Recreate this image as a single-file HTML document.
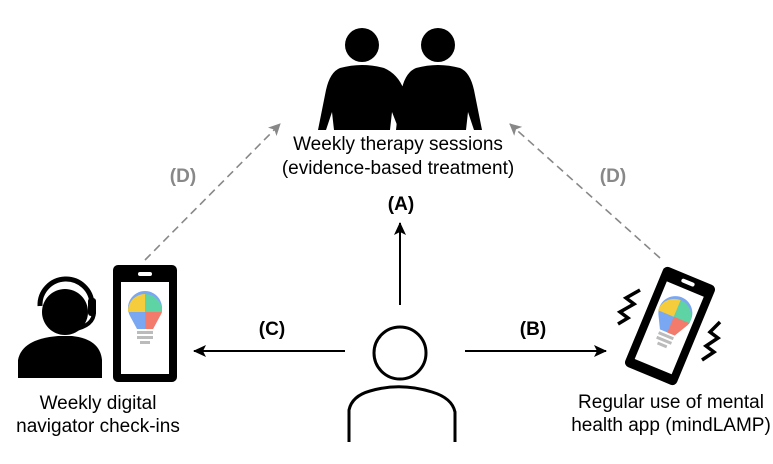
<!DOCTYPE html>
<html><head><meta charset="utf-8"><style>
html,body{margin:0;padding:0;background:#fff;}
svg{display:block;}
text{font-family:"Liberation Sans",sans-serif;}
</style></head><body>
<svg width="773" height="464" viewBox="0 0 773 464" xmlns="http://www.w3.org/2000/svg">
<defs>
<marker id="ab" markerWidth="14" markerHeight="14" refX="12" refY="6" orient="auto" markerUnits="userSpaceOnUse"><path d="M0,0 L13,6 L0,12 L3,6 z" fill="#000"/></marker>
<marker id="ag" markerWidth="14" markerHeight="14" refX="11" refY="6" orient="auto" markerUnits="userSpaceOnUse"><path d="M0,0 L12,6 L0,12 L3,6 z" fill="#888"/></marker>
<g id="bulb">
<path d="M-15,-4 A17,17 0 1 1 15,-4 L8,9 L-8,9 Z" fill="#7aa7f2"/>
<path d="M-17,-10 A17,17 0 0 1 0,-26 L0,-8 L-17,-8 Z" fill="#f5cc3c"/>
<path d="M0,-26 A17,17 0 0 1 17,-8 L0,-8 Z" fill="#5ed3a4"/>
<path d="M0,-8 L17,-8 A17,17 0 0 1 15,-4 L8,9 L0,9 Z" fill="#f27b6b"/>
<rect x="-8" y="11" width="16" height="3" fill="#bbb"/>
<rect x="-8" y="16" width="16" height="3" fill="#bbb"/>
<rect x="-5" y="21" width="10" height="3" fill="#bbb"/>
</g>
</defs>

<!-- two people -->
<circle cx="362" cy="45" r="17"/>
<circle cx="438" cy="45" r="17"/>
<path d="M340,68 Q362,62 384,68 Q398,74 404,90 L420,130 L399,130 L392,112 L390,130 L334,130 L332,112 L326,130 L318,130 L326,90 Q330,72 340,68 Z"/>
<path d="M416,68 Q438,62 460,68 Q470,72 474,90 L482,130 L474,130 L468,112 L466,130 L410,130 L408,112 L401,130 L396,130 L398,112 L402,88 Q406,72 416,68 Z"/>

<text x="398" y="150" font-size="19" text-anchor="middle">Weekly therapy sessions</text>
<text x="398" y="174" font-size="19" text-anchor="middle">(evidence-based treatment)</text>

<!-- arrows -->
<line x1="400" y1="305" x2="400" y2="223" stroke="#000" stroke-width="2" marker-end="url(#ab)"/>
<line x1="345" y1="351" x2="194" y2="351" stroke="#000" stroke-width="2" marker-end="url(#ab)"/>
<line x1="465" y1="351" x2="606" y2="351" stroke="#000" stroke-width="2" marker-end="url(#ab)"/>
<line x1="145" y1="260" x2="280" y2="124" stroke="#888" stroke-width="1.6" stroke-dasharray="8,5" marker-end="url(#ag)"/>
<line x1="660" y1="258" x2="510" y2="124" stroke="#888" stroke-width="1.6" stroke-dasharray="8,5" marker-end="url(#ag)"/>

<text x="401" y="210" font-size="19" font-weight="bold" text-anchor="middle">(A)</text>
<text x="272" y="335" font-size="19" font-weight="bold" text-anchor="middle">(C)</text>
<text x="533" y="335" font-size="19" font-weight="bold" text-anchor="middle">(B)</text>
<text x="183" y="182" font-size="19" font-weight="bold" fill="#888" text-anchor="middle">(D)</text>
<text x="613" y="182" font-size="19" font-weight="bold" fill="#888" text-anchor="middle">(D)</text>

<!-- center person outline -->
<circle cx="400" cy="353" r="26" fill="none" stroke="#000" stroke-width="3"/>
<path d="M349,442 L349,410 Q352,396 370,391 Q400,382 432,392 Q452,398 455,412 L455,442" fill="none" stroke="#000" stroke-width="3"/>

<!-- left navigator -->
<circle cx="65" cy="312" r="23"/>
<path d="M40,306 A26,26 0 0 1 92,304" fill="none" stroke="#000" stroke-width="5"/>
<rect x="88" y="298" width="8" height="18" rx="3"/>
<path d="M94,312 Q94,326 72,330" fill="none" stroke="#000" stroke-width="4"/>
<path d="M18,378 L18,360 Q22,339 58,336 L72,336 Q100,339 102,360 L102,378 Z"/>
<rect x="113" y="265" width="64" height="117" rx="5"/>
<rect x="121" y="282" width="48" height="92" fill="#fff"/>
<rect x="138" y="272" width="14" height="4" rx="2" fill="#fff"/>
<use href="#bulb" x="145" y="320"/>
<text x="98" y="409" font-size="19" text-anchor="middle">Weekly digital</text>
<text x="98" y="432" font-size="19" text-anchor="middle">navigator check-ins</text>

<!-- right phone -->
<g transform="translate(670,326) rotate(22.5)">
<rect x="-28" y="-54" width="56" height="108" rx="5"/>
<rect x="-20" y="-40" width="40" height="84" fill="#fff"/>
<rect x="-7" y="-49" width="14" height="4" rx="2" fill="#fff"/>
<use href="#bulb" x="0" y="-2"/>
</g>
<polyline points="640,290 626,298 634,304 620,312 628,318 618,324" fill="none" stroke="#000" stroke-width="3.5"/>
<polyline points="720,322 710,332 718,338 706,346 714,352 702,360" fill="none" stroke="#000" stroke-width="3.5"/>
<text x="671" y="408" font-size="19" text-anchor="middle">Regular use of mental</text>
<text x="671" y="431" font-size="19" text-anchor="middle">health app (mindLAMP)</text>
</svg>
</body></html>
